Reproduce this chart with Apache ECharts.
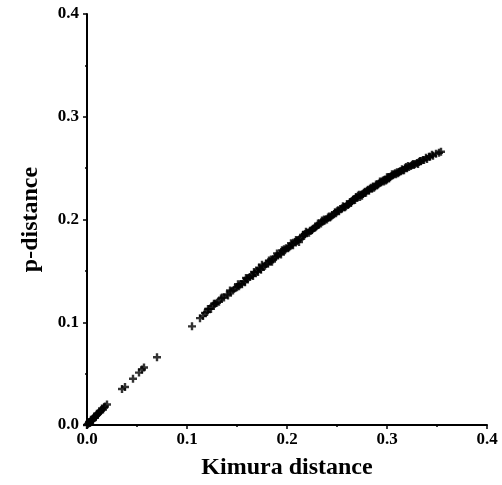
<!DOCTYPE html>
<html>
<head>
<meta charset="utf-8">
<script src="https://cdn.jsdelivr.net/npm/echarts@6/dist/echarts.min.js"></script>
<style>
  html, body { margin: 0; padding: 0; background: #fff; }
  #chart { width: 502px; height: 485px; }
</style>
</head>
<body>
<div id="chart"></div>
<script>
// Kimura distance (x) and p-distance (y)
var kimuraDist = [
  0.000, 0.001, 0.002, 0.003, 0.003, 0.004, 0.005, 0.006, 0.006, 0.007,
  0.008, 0.009, 0.010, 0.011, 0.012, 0.013, 0.014, 0.016, 0.018, 0.020,
  0.002, 0.004, 0.008, 0.010, 0.015, 0.017,
  0.035, 0.038, 0.046, 0.052, 0.055, 0.057, 0.070,
  0.105, 0.113, 0.116, 0.118, 0.120, 0.122, 0.124, 0.126, 0.128, 0.130,
  0.132, 0.134, 0.137, 0.140, 0.141, 0.144, 0.146, 0.148, 0.150, 0.152,
  0.153, 0.155, 0.157, 0.158, 0.160, 0.161, 0.163, 0.165, 0.166, 0.168,
  0.170, 0.171, 0.173, 0.174, 0.176, 0.178, 0.179, 0.181, 0.183, 0.184,
  0.186, 0.188, 0.189, 0.191, 0.193, 0.194, 0.196, 0.198, 0.199, 0.201,
  0.203, 0.205, 0.206, 0.208, 0.210, 0.211, 0.213, 0.215, 0.217, 0.218,
  0.220, 0.222, 0.224, 0.226, 0.228, 0.230, 0.232, 0.234, 0.236, 0.238,
  0.240, 0.241, 0.243, 0.245, 0.247, 0.249, 0.250, 0.252, 0.254, 0.255,
  0.257, 0.259, 0.260, 0.262, 0.263, 0.265, 0.266, 0.268, 0.270, 0.271,
  0.273, 0.274, 0.276, 0.277, 0.279, 0.280, 0.282, 0.283, 0.285, 0.286,
  0.288, 0.289, 0.291, 0.292, 0.294, 0.295, 0.297, 0.298, 0.300, 0.301,
  0.303, 0.304, 0.306, 0.307, 0.309, 0.310, 0.312, 0.314, 0.315, 0.317,
  0.318, 0.320, 0.322, 0.324, 0.326, 0.328, 0.330, 0.332, 0.334, 0.337,
  0.340, 0.343, 0.346, 0.349, 0.352, 0.354,
  0.172, 0.185, 0.197, 0.212, 0.225, 0.237, 0.248, 0.256, 0.264, 0.269,
  0.275, 0.281, 0.287, 0.293, 0.299, 0.305, 0.311, 0.316, 0.321, 0.327,
  0.333, 0.300, 0.290, 0.278, 0.261, 0.244, 0.229, 0.216, 0.202,
  0.121, 0.127, 0.135, 0.143, 0.151, 0.159, 0.167, 0.175, 0.182, 0.190,
  0.195, 0.204, 0.209, 0.219, 0.223, 0.231, 0.235, 0.242, 0.251, 0.258,
  0.267, 0.272, 0.284, 0.296, 0.302, 0.308, 0.313, 0.319, 0.325, 0.331,
  0.336, 0.339, 0.342, 0.345
];
var pDist = [
  0.000, 0.001, 0.002, 0.002, 0.003, 0.004, 0.005, 0.005, 0.006, 0.007,
  0.008, 0.009, 0.010, 0.011, 0.012, 0.013, 0.014, 0.015, 0.018, 0.020,
  0.003, 0.005, 0.007, 0.011, 0.016, 0.017,
  0.035, 0.037, 0.045, 0.051, 0.054, 0.056, 0.066,
  0.096, 0.104, 0.106, 0.109, 0.110, 0.113, 0.113, 0.116, 0.118, 0.119,
  0.120, 0.123, 0.124, 0.127, 0.126, 0.130, 0.131, 0.133, 0.134, 0.135,
  0.137, 0.137, 0.140, 0.139, 0.142, 0.143, 0.144, 0.146, 0.145, 0.148,
  0.150, 0.149, 0.152, 0.151, 0.154, 0.155, 0.157, 0.157, 0.159, 0.161,
  0.161, 0.163, 0.164, 0.165, 0.167, 0.166, 0.169, 0.170, 0.172, 0.172,
  0.174, 0.176, 0.175, 0.178, 0.179, 0.180, 0.181, 0.183, 0.184, 0.186,
  0.187, 0.187, 0.189, 0.191, 0.192, 0.194, 0.195, 0.196, 0.198, 0.199,
  0.200, 0.202, 0.202, 0.204, 0.205, 0.206, 0.208, 0.208, 0.210, 0.211,
  0.212, 0.213, 0.215, 0.215, 0.217, 0.218, 0.219, 0.219, 0.221, 0.223,
  0.222, 0.224, 0.225, 0.226, 0.226, 0.228, 0.228, 0.230, 0.230, 0.232,
  0.232, 0.234, 0.234, 0.235, 0.236, 0.237, 0.237, 0.239, 0.239, 0.241,
  0.241, 0.242, 0.243, 0.244, 0.244, 0.246, 0.246, 0.247, 0.249, 0.248,
  0.250, 0.250, 0.251, 0.252, 0.254, 0.254, 0.255, 0.256, 0.257, 0.258,
  0.259, 0.261, 0.262, 0.264, 0.265, 0.266,
  0.153, 0.159, 0.171, 0.178, 0.190, 0.200, 0.207, 0.213, 0.216, 0.222,
  0.223, 0.229, 0.231, 0.237, 0.238, 0.244, 0.245, 0.248, 0.252, 0.253,
  0.257, 0.241, 0.233, 0.227, 0.214, 0.203, 0.193, 0.185, 0.173,
  0.113, 0.118, 0.124, 0.131, 0.137, 0.143, 0.149, 0.156, 0.160, 0.167,
  0.170, 0.177, 0.180, 0.188, 0.189, 0.196, 0.199, 0.203, 0.209, 0.212,
  0.220, 0.224, 0.231, 0.238, 0.240, 0.245, 0.247, 0.251, 0.253, 0.254,
  0.258, 0.260, 0.261, 0.263
];
var tickFont = 'Liberation Serif';

var points = kimuraDist.map(function (d, i) { return [d, pDist[i]] });

var chart = echarts.init(document.getElementById('chart'));
chart.setOption({
  animation: false,
  backgroundColor: '#fff',
  grid: { left: 87, right: 15, top: 14, bottom: 58 },
  xAxis: {
    type: 'value',
    min: 0,
    max: 0.4,
    interval: 0.1,
    name: 'Kimura distance',
    nameLocation: 'middle',
    nameGap: 31,
    nameTextStyle: { fontFamily: tickFont, fontWeight: 'bold', fontSize: 24, color: '#000' },
    axisLine: { lineStyle: { color: '#000', width: 2 } },
    axisTick: { length: 4, lineStyle: { color: '#000', width: 1.5 } },
    minorTick: { show: true, splitNumber: 2, length: 2, lineStyle: { color: '#000', width: 1.5 } },
    splitLine: { show: false },
    axisLabel: {
      margin: 6,
      fontFamily: tickFont, fontWeight: 'bold', fontSize: 17, color: '#000',
      formatter: function (v) { return v.toFixed(1) }
    }
  },
  yAxis: {
    type: 'value',
    min: 0,
    max: 0.4,
    interval: 0.1,
    name: 'p-distance',
    nameLocation: 'middle',
    nameGap: 44,
    nameTextStyle: { fontFamily: tickFont, fontWeight: 'bold', fontSize: 24, color: '#000' },
    axisLine: { lineStyle: { color: '#000', width: 2 } },
    axisTick: { length: 4, lineStyle: { color: '#000', width: 1.5 } },
    minorTick: { show: true, splitNumber: 2, length: 2, lineStyle: { color: '#000', width: 1.5 } },
    splitLine: { show: false },
    axisLabel: {
      margin: 8,
      fontFamily: tickFont, fontWeight: 'bold', fontSize: 17, color: '#000',
      formatter: function (v) { return v.toFixed(1) }
    }
  },
  series: [{
    type: 'scatter',
    data: points,
    symbol: 'path://M3.5,0H6.5V3.5H10V6.5H6.5V10H3.5V6.5H0V3.5H3.5Z',
    symbolSize: 8,
    itemStyle: { color: '#000' }
  }]
});
</script>
</body>
</html>
